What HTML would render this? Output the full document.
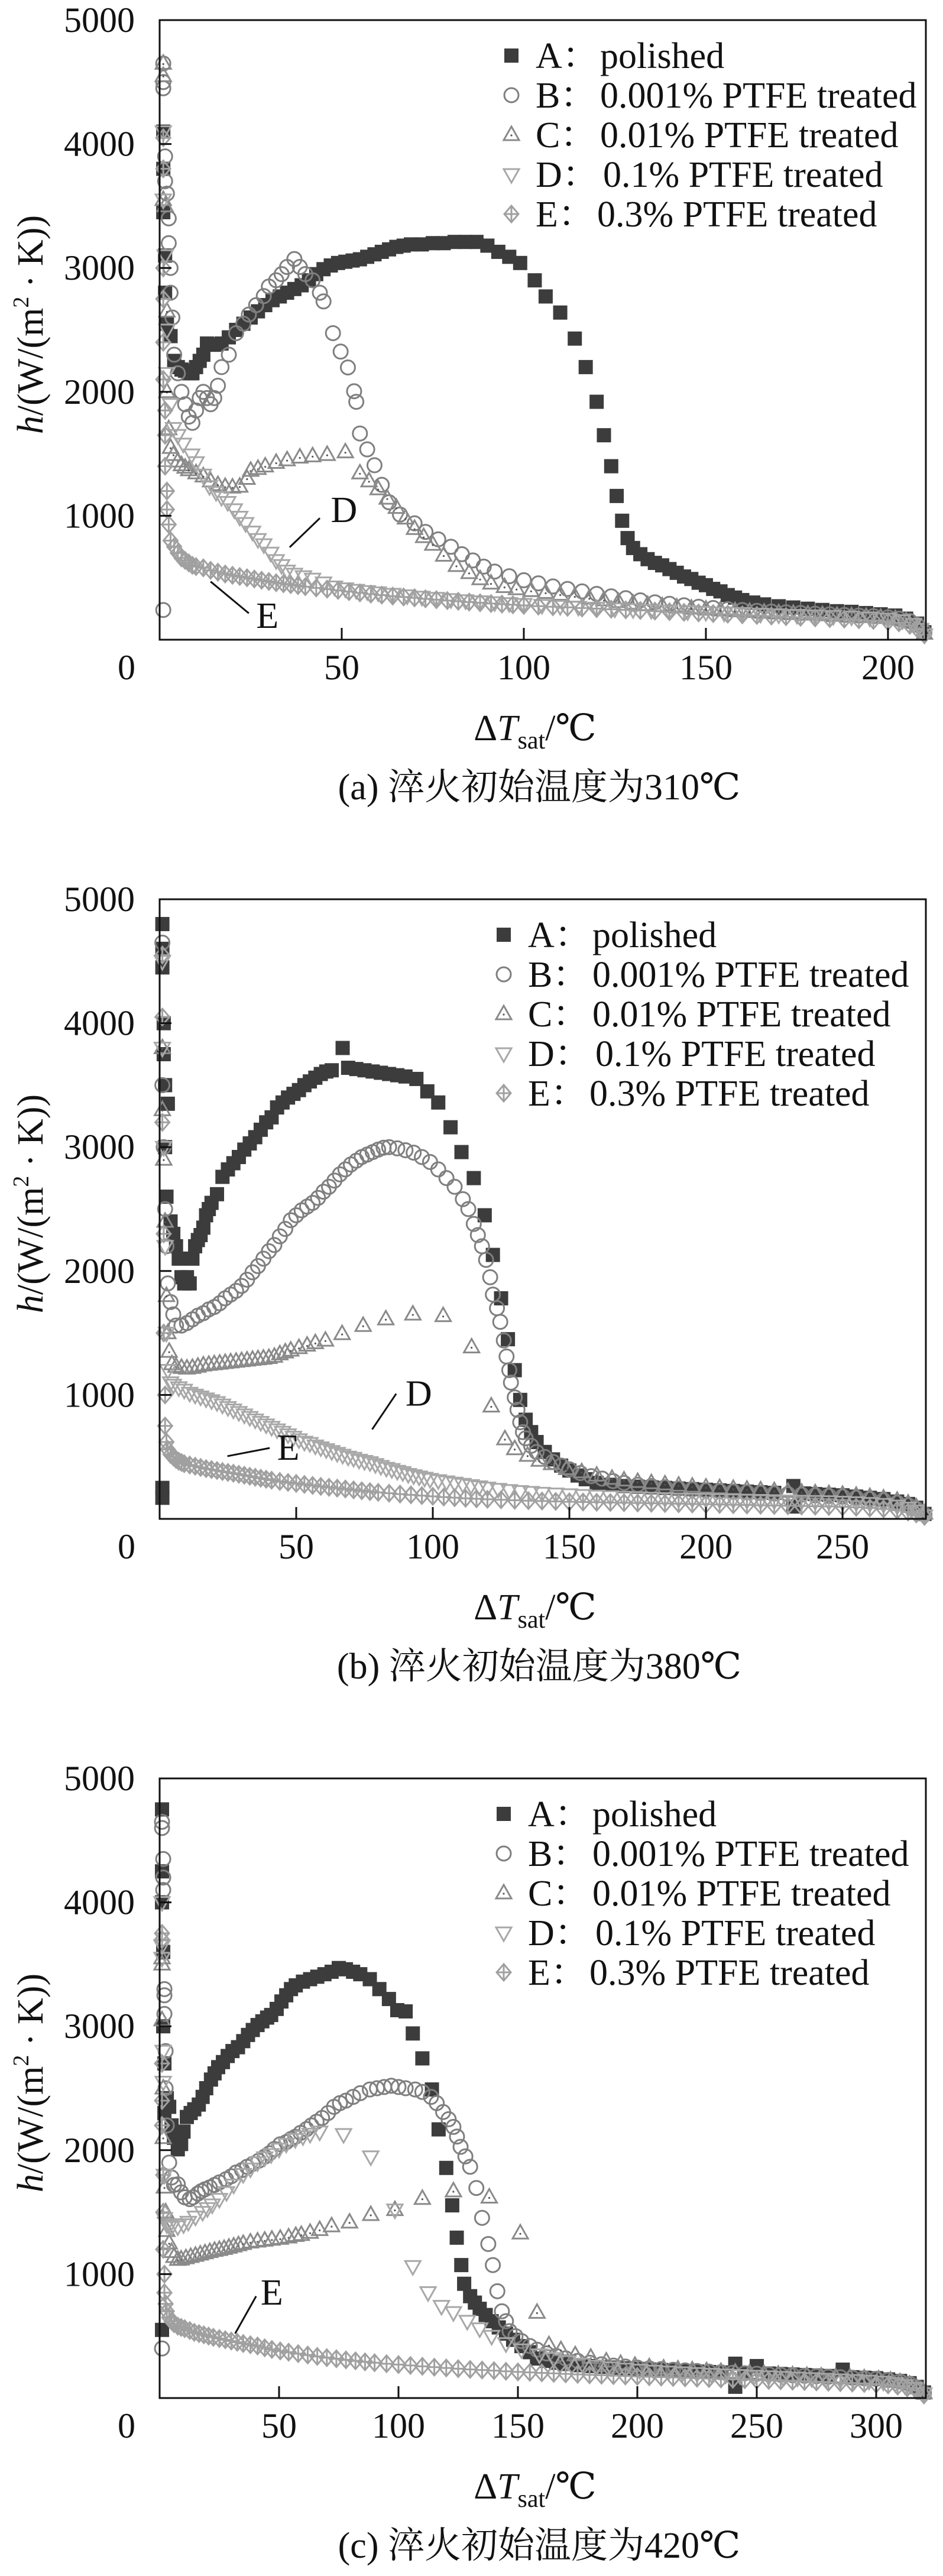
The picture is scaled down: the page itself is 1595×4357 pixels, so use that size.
<!DOCTYPE html>
<html><head><meta charset="utf-8">
<style>
html,body{margin:0;padding:0;background:#fff;}
svg{display:block;font-family:"Liberation Serif","DejaVu Serif","Times New Roman",Times,"Noto Serif CJK SC","Noto Sans CJK SC",serif;}
svg text{font-family:"Liberation Serif","DejaVu Serif","Times New Roman",Times,"Noto Serif CJK SC","Noto Sans CJK SC",serif !important;fill:#111;}
</style></head>
<body>
<svg id="fig" xmlns="http://www.w3.org/2000/svg" width="1595" height="4357" viewBox="0 0 1595 4357"></svg>
<script>
// ---------- tick labels ----------
const yTickValues = [1000, 2000, 3000, 4000, 5000];
const xTicksA = [50, 100, 150, 200];
const xTicksB = [50, 100, 150, 200, 250];
const xTicksC = [50, 100, 150, 200, 250, 300];
const seriesNames = ["A", "B", "C", "D", "E"];
const legendLabels = ["polished", "0.001% PTFE treated", "0.01% PTFE treated", "0.1% PTFE treated", "0.3% PTFE treated"];
const captions = ["(a) 淬火初始温度为310℃", "(b) 淬火初始温度为380℃", "(c) 淬火初始温度为420℃"];

// ---------- panel (a) 310℃ ----------
const aA = [[1,4100],[1,3800],[1,3450],[1.5,3100],[1.5,2800],[2,2550],[3,2450],[4,2250],[5,2200],[6,2180],[7,2170],[8,2150],[9,2150],[10,2200],[11,2250],[12,2300],[13,2390],[15,2380],[17,2390],[19,2440],[21,2500],[23,2550],[25,2600],[27,2650],[29,2700],[31,2740],[33,2770],[35,2800],[37,2830],[39,2860],[41,2900],[43,2950],[45,2990],[47,3020],[49,3040],[51,3050],[53,3060],[55,3070],[57,3090],[59,3110],[61,3130],[63,3150],[65,3170],[67,3180],[69,3190],[72,3190],[75,3200],[78,3200],[81,3210],[84,3210],[87,3210],[90,3180],[93,3130],[96,3090],[99,3040],[103,2900],[106,2770],[110,2640],[114,2430],[117,2200],[120,1920],[122,1650],[124,1400],[125.5,1160],[127,960],[128.5,820],[130,740],[132,690],[134,650],[136,620],[138,600],[140,570],[142,540],[144,510],[146,490],[148,460],[150,440],[152,410],[154,390],[156,360],[158,340],[160,320],[163,300],[166,285],[170,270],[174,260],[178,250],[182,240],[186,230],[190,225],[194,215],[198,205],[202,195],[205,170],[208,130],[210,60]];
const aB = [[1,4650],[1,4500],[1,4450],[1.5,3900],[1.5,3700],[2,3600],[2.5,3400],[2.5,3200],[3,3000],[3,2800],[3.5,2600],[4,2300],[5,2150],[6,2000],[7,1900],[8,1800],[9,1750],[10,1850],[11,1950],[12,2000],[13,1950],[14,1900],[15,1950],[16,2050],[17,2200],[19,2300],[21,2474],[23,2550],[24.5,2624],[26.5,2700],[28.6,2773],[30,2850],[32,2901],[33.5,2950],[35,3008],[37,3072],[38.5,3008],[40,2950],[42,2901],[44,2800],[45,2730],[47.6,2474],[49.7,2325],[51.7,2197],[53.4,2005],[54,1920],[55,1664],[57,1536],[59,1408],[61,1250],[63,1109],[66,1010],[70,939],[73,870],[76.5,810],[80,750],[83,690],[86,640],[89,590],[92,550],[96,512],[100,480],[104,455],[108,430],[112,410],[116,390],[120,370],[124,350],[128,335],[132,318],[136,302],[140,290],[144,278],[148,266],[152,256],[156,247],[160,240],[164,233],[168,227],[172,221],[176,216],[180,210],[184,205],[188,200],[192,195],[196,190],[200,180],[203,170],[206,150],[208,120],[210,60],[1,240]];
const aC = [[1,4650],[1,4550],[1,3550],[1.5,3500],[2,2650],[2,2000],[2.5,1700],[3,1550],[3.8,1493],[5,1440],[6,1410],[7,1390],[8,1370],[10,1345],[12,1320],[14,1280],[16,1250],[18,1235],[20,1230],[22,1237],[24,1300],[25,1365],[27,1380],[29,1400],[32,1429],[35,1450],[38.5,1472],[42,1482],[46,1493],[51,1514],[55,1344],[57.5,1280],[60,1216],[62.5,1140],[65,1066],[67.5,980],[70,896],[72.5,830],[75,768],[78,680],[81.5,597],[85,540],[88,490],[91,455],[94.7,427],[98,410],[102,395],[106,380],[110,365],[114,350],[118,335],[122,320],[126,306],[130,293],[134,282],[138,272],[142,262],[146,253],[150,245],[154,238],[158,232],[162,226],[166,220],[170,215],[174,210],[178,205],[182,200],[186,195],[190,190],[194,185],[198,178],[202,168],[205,150],[208,110],[210,50]];
const aD = [[1,4100],[1,3550],[1.5,3100],[2,2500],[2,2150],[3,1900],[3.8,1706],[5,1650],[6.5,1580],[8.8,1493],[10,1430],[12,1330],[13.7,1237],[15.5,1190],[17,1150],[18.7,1109],[20.5,1050],[22,990],[23.6,939],[25.5,870],[27,810],[28.6,768],[30.5,700],[32,640],[33.5,600],[35,555],[37,530],[39.5,510],[42,490],[45,460],[48,427],[51,412],[54,400],[57,390],[60,380],[64,368],[68,356],[72,345],[76,335],[80,325],[84,316],[88,308],[92,300],[96,293],[100,286],[105,278],[110,270],[115,263],[120,256],[125,250],[130,244],[135,238],[140,232],[145,227],[150,222],[155,217],[160,212],[165,207],[170,202],[175,198],[180,194],[185,190],[190,185],[195,178],[200,168],[204,155],[207,125],[209,85],[210,40]];
const aE = [[1,4050],[1,3800],[1,3000],[1,2750],[1,2400],[1,2100],[1.5,1850],[1.5,1650],[1.5,1400],[2,1200],[2,1050],[2.5,930],[3,800],[4,750],[5,700],[6,660],[7,640],[8,620],[9,600],[10,590],[12,580],[14,560],[16,545],[18,530],[20,520],[22,510],[24,500],[26,490],[28,480],[30,470],[32,460],[34,452],[36,444],[38,436],[40,428],[43,418],[46,408],[49,398],[52,388],[55,378],[58,368],[61,360],[64,352],[67,345],[70,338],[73,330],[76,323],[79,316],[82,310],[85,304],[88,298],[91,292],[94,287],[97,282],[100,277],[104,271],[108,266],[112,261],[116,256],[120,251],[124,246],[128,241],[132,236],[136,231],[140,226],[144,221],[148,216],[152,211],[156,206],[160,201],[164,196],[168,191],[172,186],[176,181],[180,176],[184,171],[188,166],[192,161],[196,156],[200,146],[203,136],[206,116],[208,90],[210,40]];

// ---------- panel (b) 380℃ ----------
const bA = [[1,4800],[1,4600],[1,4450],[1.5,4000],[1.5,3750],[2,3500],[3,3350],[2,3000],[2.5,2600],[1,250],[1,170],[4,2400],[5,2300],[6,2200],[7,2100],[8,1950],[9,1900],[10,1950],[11,1900],[12,2100],[13,2200],[14,2250],[15,2290],[16,2350],[17,2450],[18,2500],[19,2550],[21,2620],[23,2760],[25,2820],[27,2870],[29,2920],[31,2980],[33,3030],[35,3080],[37,3140],[39,3200],[41,3240],[43,3320],[45,3360],[47,3400],[49,3430],[51,3460],[53,3500],[55,3530],[57,3560],[59,3590],[61,3610],[63,3620],[67,3800],[69,3640],[72,3630],[75,3620],[78,3610],[81,3600],[84,3590],[87,3580],[90,3570],[94,3550],[98,3450],[102,3360],[106.5,3160],[110.5,2960],[115,2750],[119,2450],[122,2130],[125,1780],[127.5,1450],[130,1200],[132,960],[134,800],[136,700],[138,620],[141,540],[144,480],[147,430],[150,390],[153,350],[156,320],[160,290],[165,275],[170,265],[175,260],[180,255],[185,250],[190,245],[195,240],[200,235],[205,230],[210,225],[215,220],[220,215],[225,210],[232,265],[232,100],[236,205],[240,200],[245,195],[250,190],[255,180],[260,170],[265,160],[270,140],[274,120],[277,90],[280,40]];
const bB = [[1,4650],[1,3500],[1.5,3000],[2,2500],[2.5,2200],[3,1900],[4,1750],[5,1650],[6,1560],[8,1560],[10,1580],[12,1610],[14,1640],[16,1660],[18,1690],[20,1710],[22,1740],[24,1780],[26,1810],[28,1840],[30,1880],[32,1930],[34,1990],[36,2040],[38,2100],[40,2160],[42,2210],[44,2280],[46,2340],[48,2410],[50,2450],[52,2490],[54,2520],[56,2550],[58,2590],[60,2640],[62,2680],[64,2730],[66,2780],[68,2820],[70,2860],[72,2890],[74,2920],[76,2940],[78,2960],[80,2980],[82,2995],[84,3000],[87,2990],[90,2975],[93,2955],[96,2920],[99,2880],[102,2820],[105,2750],[108,2680],[111,2580],[113,2500],[115,2380],[116.5,2290],[118,2200],[119.5,2090],[121,1950],[122,1810],[123.5,1700],[124.7,1590],[126,1440],[127,1310],[128,1200],[128.6,1100],[130,980],[131,880],[132,780],[133,700],[134,650],[136,590],[138,540],[141,500],[144,460],[147,430],[150,400],[154,370],[158,345],[162,325],[166,305],[170,290],[175,275],[180,265],[185,255],[190,245],[195,238],[200,230],[205,225],[210,220],[215,215],[220,210],[225,205],[230,200],[235,195],[240,190],[245,185],[250,180],[255,170],[260,160],[265,150],[270,130],[274,110],[277,80],[280,35]];
const bC = [[1,3800],[1,3300],[1.5,2900],[2,2400],[2.5,1800],[3,1500],[3.5,1350],[4.5,1250],[6,1230],[8,1220],[10,1215],[12,1220],[14,1230],[16,1240],[18,1245],[20,1250],[22,1255],[24,1260],[26,1265],[28,1270],[30,1275],[32,1280],[34,1285],[36,1290],[38,1295],[40,1300],[42,1310],[44,1330],[46,1345],[48,1360],[51,1380],[54,1400],[57,1420],[60.7,1440],[66.8,1493],[74.5,1559],[82.8,1612],[92.7,1651],[103.8,1638],[114.2,1386],[121.4,909],[126.4,644],[130,564],[134.7,511],[139,471],[143.5,444],[149,404],[154.5,378],[160,351],[165.6,325],[170,312],[175,300],[180,290],[185,280],[190,270],[195,262],[200,255],[205,250],[210,244],[215,238],[220,232],[225,226],[230,220],[235,214],[240,208],[245,202],[250,196],[255,188],[260,178],[265,166],[270,148],[274,125],[277,95],[280,45]];
const bD = [[1,4500],[1,3800],[1.5,3000],[2,2200],[2.5,1500],[3,1200],[4,1100],[5,1080],[7,1060],[9,1040],[11,1015],[13,1000],[15,985],[17,970],[19,955],[21,940],[23,920],[25,900],[27,880],[29,860],[31,840],[33,820],[35,800],[37,780],[39,760],[41,740],[43,720],[45,700],[47,680],[49,660],[51,640],[53,620],[55,610],[57,590],[59,575],[61,560],[63,545],[65,530],[67,515],[69,500],[71,490],[73,475],[75,465],[77,455],[79,440],[81,425],[83,410],[85,400],[87,385],[89,375],[91,360],[93,350],[95,340],[97,330],[99,320],[102,310],[105,300],[108,290],[111,280],[114,270],[117,260],[120,250],[124,240],[128,230],[132,222],[136,215],[140,208],[145,202],[150,196],[155,190],[160,185],[165,180],[170,176],[175,172],[180,168],[185,165],[190,162],[195,160],[200,158],[205,156],[210,154],[215,152],[220,150],[225,148],[230,146],[235,144],[240,142],[245,140],[250,136],[255,132],[260,126],[265,118],[270,105],[274,88],[277,65],[280,25]];
const bE = [[1,4550],[1,4050],[1,3200],[1.5,2300],[1.5,1500],[2,1000],[2,750],[2.5,620],[3,560],[4,520],[5,500],[6,480],[7,465],[8,455],[9,445],[11,435],[13,425],[15,415],[17,405],[19,398],[21,390],[23,382],[25,375],[27,368],[29,360],[31,352],[33,344],[35,336],[37,328],[39,320],[41,312],[44,302],[47,294],[50,286],[53,278],[56,270],[59,262],[62,255],[65,248],[68,241],[71,234],[74,227],[77,220],[80,214],[84,207],[88,200],[92,194],[96,188],[100,182],[104,176],[108,171],[112,166],[116,162],[120,158],[125,154],[130,150],[135,147],[140,144],[145,141],[150,138],[155,136],[160,134],[165,132],[170,130],[175,128],[180,126],[185,124],[190,122],[195,120],[200,118],[205,116],[210,114],[215,112],[220,110],[225,108],[230,106],[235,104],[240,102],[245,100],[250,97],[255,93],[260,88],[265,80],[270,70],[274,55],[277,40],[280,20]];

// ---------- panel (c) 420℃ ----------
const cA = [[1,4750],[1,4250],[1,4000],[1.5,3600],[1.5,3000],[2,2700],[2,2300],[1,550],[3,2420],[4,2350],[5,2200],[6,2100],[7.6,2007],[9,2050],[10,2150],[11.4,2268],[13,2300],[14.5,2330],[16.4,2368],[18,2430],[19.5,2500],[21.5,2570],[23,2620],[24.5,2670],[26.5,2711],[28.5,2760],[30.5,2800],[32.8,2831],[35,2880],[37,2930],[39,2970],[41,3010],[43,3040],[45,3070],[46.7,3091],[49,3140],[51,3200],[53,3250],[55,3300],[57,3330],[60,3360],[63,3380],[66,3400],[69,3420],[72,3440],[75,3470],[78,3460],[81,3440],[84,3420],[88,3380],[92,3300],[96,3220],[99.5,3130],[103,3120],[106,2942],[110,2741],[114,2490],[116.8,2168],[120,1857],[122.5,1555],[124.4,1294],[126.3,1073],[127.5,922],[130,822],[132,770],[134,720],[136.5,670],[139,620],[142,570],[145,520],[148,470],[151.5,419],[155,370],[158,319],[162,300],[166,285],[170,275],[175,265],[180,258],[185,252],[190,246],[195,240],[200,235],[205,230],[210,226],[215,222],[220,218],[225,214],[230,210],[235,206],[241,277],[241,91],[245,202],[250,258],[255,198],[260,194],[265,190],[270,186],[275,182],[280,178],[286,229],[290,168],[295,164],[300,160],[305,150],[310,138],[314,120],[317,90],[320,45]];
const cB = [[1,4650],[1,4600],[1.5,4350],[1.5,4200],[1.5,4100],[2,3300],[2,3250],[2,3100],[2.5,2800],[2.5,2500],[1,400],[3,2200],[4,1900],[5,1780],[6,1720],[7.6,1725],[9,1660],[10.5,1620],[12.6,1605],[14,1620],[16,1650],[17.5,1670],[19,1685],[21,1700],[23,1720],[25,1740],[27.8,1766],[30,1790],[32,1820],[34.5,1840],[36.6,1866],[39,1890],[41.5,1915],[44,1948],[46,1975],[48,2010],[50.5,2048],[53,2065],[55,2090],[56.8,2108],[59,2140],[61.5,2170],[63.5,2200],[65.7,2230],[68,2260],[70.5,2300],[73,2350],[75.5,2380],[78,2400],[81,2430],[84,2460],[88,2490],[91,2500],[94,2510],[97,2520],[100,2510],[103,2500],[107,2490],[110,2470],[113.6,2430],[116,2380],[118.7,2308],[121,2250],[123,2188],[124.5,2110],[126,2027],[128,1950],[130,1866],[132.6,1695],[135,1454],[137.6,1243],[139.5,1073],[141.4,862],[143.3,700],[145,620],[146.5,540],[149,500],[151.5,460],[155,420],[158,390],[162,360],[166,340],[170,320],[175,300],[180,285],[185,272],[190,262],[195,254],[200,246],[205,240],[210,234],[215,228],[220,223],[225,218],[230,213],[235,208],[240,204],[245,200],[250,196],[255,192],[260,188],[265,184],[270,180],[275,176],[280,172],[285,168],[290,164],[295,160],[300,155],[305,146],[310,134],[314,115],[317,85],[320,40]];
const cC = [[1,3550],[1,3500],[1,3050],[1.5,2500],[1.5,2100],[2,1700],[2.5,1500],[3,1350],[4,1250],[5,1180],[6,1140],[7.6,1117],[9,1120],[11,1130],[13,1140],[15,1150],[17,1160],[19,1170],[21,1180],[23,1190],[25,1197],[27,1205],[29,1215],[31,1225],[33,1235],[35,1245],[38,1257],[41,1265],[44,1272],[47,1280],[50.5,1287],[54,1298],[57,1310],[59.3,1318],[63,1335],[67,1358],[72,1388],[79.5,1418],[88.4,1479],[98.5,1519],[110,1609],[123,1670],[138,1620],[151,1330],[158,690],[163,428],[168,388],[174,347],[180.5,327],[187,297],[193,277],[199,262],[205,250],[211,240],[217,232],[223,225],[229,218],[235,212],[241,206],[247,200],[253,195],[259,190],[265,185],[271,180],[277,175],[283,170],[289,165],[295,160],[301,152],[306,142],[310,128],[314,110],[317,80],[320,40]];
const cD = [[1,4000],[1,3650],[1,3550],[1.5,2800],[1.5,2550],[2,1800],[2,1450],[3,1400],[4,1390],[5,1380],[7.6,1384],[10,1400],[12,1420],[15,1462],[18,1500],[20,1530],[22,1560],[25,1605],[28,1660],[31,1720],[35,1806],[38,1850],[41,1900],[44,1940],[46.7,1966],[50,2010],[53,2050],[56.8,2088],[60,2110],[63,2130],[67,2148],[77,2128],[88.4,1948],[98.5,1519],[106,1063],[112.4,852],[118,741],[123,691],[128.8,621],[134,560],[139,500],[145,440],[151.5,390],[159,350],[165,320],[171,295],[177,275],[183,258],[189,245],[195,235],[201,226],[207,218],[213,211],[219,205],[225,199],[231,193],[237,188],[243,183],[249,178],[255,173],[261,168],[267,163],[273,158],[279,153],[285,148],[291,143],[297,138],[303,130],[308,118],[312,102],[316,78],[320,35]];
const cE = [[1,3750],[1,3700],[1,2700],[1,2400],[1,2200],[1.5,1800],[1.5,1500],[1.5,1200],[2,1000],[2,850],[2.5,760],[3,700],[4,650],[5,620],[6,600],[7.6,580],[9,570],[10.5,560],[12.6,545],[14.5,530],[16.5,520],[18.5,510],[20.5,500],[22.5,490],[25,480],[27.5,470],[30,460],[32.5,450],[35,440],[38,430],[41,420],[44,405],[47,392],[50.5,380],[54,370],[58,358],[62,347],[66,336],[70,326],[74,317],[78,308],[82,300],[86,292],[90,285],[95,277],[100,270],[105,263],[110,256],[115,249],[120,243],[125,237],[130,231],[135,226],[140,221],[145,216],[150,211],[155,207],[160,203],[165,199],[170,195],[175,191],[180,187],[185,184],[190,181],[195,178],[200,175],[205,172],[210,169],[215,166],[220,163],[225,160],[230,157],[235,154],[240,151],[245,148],[250,145],[255,142],[260,139],[265,136],[270,133],[275,130],[280,127],[285,124],[290,121],[295,118],[300,113],[305,106],[309,96],[313,82],[317,60],[320,25]];

// annotation anchors in data units: [x1,y1,x2,y2,labelX,labelY]
const annA_D = [35.7, 746, 44, 981, 47, 1045];
const annA_E = [14, 469, 24.5, 213, 26.5, 192];
const annB_D = [77.8, 722, 86.6, 1010, 90, 1010];
const annB_E = [24.8, 506, 40.3, 572, 43, 572];
const annC_E = [31.6, 520, 40.4, 822, 42.3, 850];

// ---------- rendering ----------
const NS = "http://www.w3.org/2000/svg";
const FF = "Liberation Serif, DejaVu Serif, Times New Roman, Times, Noto Serif CJK SC, Noto Sans CJK SC, serif";
const svg = document.getElementById("fig");
const L = 270, R = 1566, H = 1048;
function mk(tag, attrs, parent) {
  const e = document.createElementNS(NS, tag);
  for (const k in attrs) e.setAttribute(k, attrs[k]);
  if (tag === "text") e.setAttribute("font-family", FF);
  (parent || svg).appendChild(e);
  return e;
}
const panels = [
  {key:"a", top:34, xmax:210.4, ticks:xTicksA, series:[aA,aB,aC,aD,aE], anns:[["D",annA_D],["E",annA_E]], legX:865},
  {key:"b", top:1521, xmax:280.5, ticks:xTicksB, series:[bA,bB,bC,bD,bE], anns:[["D",annB_D],["E",annB_E]], legX:852},
  {key:"c", top:3008, xmax:320.8, ticks:xTicksC, series:[cA,cB,cC,cD,cE], anns:[["E",annC_E]], legX:852}
];
function drawMarker(g, type, cx, cy) {
  let el;
  if (type === 0) {
    el = mk("rect", {x:cx-12, y:cy-12, width:24, height:24, fill:"#3c3c3c"}, g);
  } else if (type === 1) {
    el = mk("circle", {cx:cx, cy:cy, r:12, fill:"none", stroke:"#7f7f7f", "stroke-width":3}, g);
  } else if (type === 2) {
    el = mk("g", {}, g);
    mk("polygon", {points:`${cx},${cy-14} ${cx+13},${cy+9} ${cx-13},${cy+9}`, fill:"none", stroke:"#8a8a8a", "stroke-width":3}, el);
    mk("circle", {cx:cx, cy:cy+1, r:1.6, fill:"#555"}, el);
  } else if (type === 3) {
    el = mk("polygon", {points:`${cx-13},${cy-9} ${cx+13},${cy-9} ${cx},${cy+14}`, fill:"none", stroke:"#a8a8a8", "stroke-width":3}, g);
  } else {
    el = mk("g", {stroke:"#a0a0a0", "stroke-width":3, fill:"none"}, g);
    mk("polygon", {points:`${cx},${cy-14} ${cx+12},${cy} ${cx},${cy+14} ${cx-12},${cy}`}, el);
    mk("line", {x1:cx-12, y1:cy, x2:cx+12, y2:cy}, el);
    mk("line", {x1:cx, y1:cy-14, x2:cx, y2:cy+14}, el);
  }
  return el;
}
panels.forEach((p, pi) => {
  const B = p.top + H;
  const xs = v => L + v / p.xmax * (R - L);
  const ys = v => B - v / 5000 * H;
  const g = mk("g", {});
  
  
  p.series.forEach((data, si) => {
    const sg = mk("g", {}, g);
    
    
    data.forEach(d => {
      const m = drawMarker(sg, si, xs(d[0]), ys(d[1]));
      
      
    });
  });
  const fr = mk("rect", {x:L, y:p.top, width:R-L, height:H, fill:"none", stroke:"#111", "stroke-width":3}, g);
  
  
  yTickValues.forEach(v => {
    const t = mk("line", {x1:L, x2:L+20, y1:ys(v), y2:ys(v), stroke:"#111", "stroke-width":3}, g);
    
    
    const tl = mk("text", {x:228, y:ys(v), "text-anchor":"end", "dominant-baseline":"central", "font-size":60}, g);
    tl.textContent = String(v);
    
    
  });
  const z = mk("text", {x:214, y:B+47, "text-anchor":"middle", "dominant-baseline":"central", "font-size":60}, g);
  z.textContent = "0";
  
  
  p.ticks.forEach(v => {
    const t = mk("line", {x1:xs(v), x2:xs(v), y1:B, y2:B-20, stroke:"#111", "stroke-width":3}, g);
    
    
    const tl = mk("text", {x:xs(v), y:B+47, "text-anchor":"middle", "dominant-baseline":"central", "font-size":60}, g);
    tl.textContent = String(v);
    
    
  });
  const yt = mk("text", {transform:`translate(72,${p.top+515}) rotate(-90)`, "text-anchor":"middle", "font-size":62}, g);
  yt.innerHTML = '<tspan font-style="italic">h</tspan>/(W/(m<tspan font-size="38" dy="-24">2</tspan><tspan dy="24"> · K))</tspan>';
  
  
  const xt = mk("text", {x:905, y:p.top+1218, "text-anchor":"middle", "font-size":62}, g);
  xt.innerHTML = 'Δ<tspan font-style="italic">T</tspan><tspan font-size="42" dy="14">sat</tspan><tspan dy="-14">/℃</tspan>';
  
  
  const cap = mk("text", {x:912, y:p.top+1318, "text-anchor":"middle", "font-size":62}, g);
  cap.textContent = captions[pi];
  
  
  const lg = mk("g", {}, g);
  
  
  seriesNames.forEach((s, i) => {
    const cy = p.top + 60 + i * 67;
    const row = mk("g", {}, lg);
    
    
    drawMarker(row, i, p.legX, cy);
    const tx = mk("text", {x:p.legX+41, y:cy+21, "font-size":62}, row);
    const dx = (i === 3) ? 155 : (i === 4 ? 145 : 150);
    tx.innerHTML = `${s}：<tspan x="${p.legX+dx}">${legendLabels[i]}</tspan>`;
  });
  p.anns.forEach(a => {
    const d = a[1];
    const ln = mk("line", {x1:xs(d[0]), y1:ys(d[1]), x2:xs(d[2]), y2:ys(d[3]), stroke:"#111", "stroke-width":3}, g);
    
    
    const at = mk("text", {x:xs(d[4]), y:ys(d[5]), "dominant-baseline":"central", "font-size":62}, g);
    at.textContent = a[0];
    
    
  });
});
</script>
</body></html>
